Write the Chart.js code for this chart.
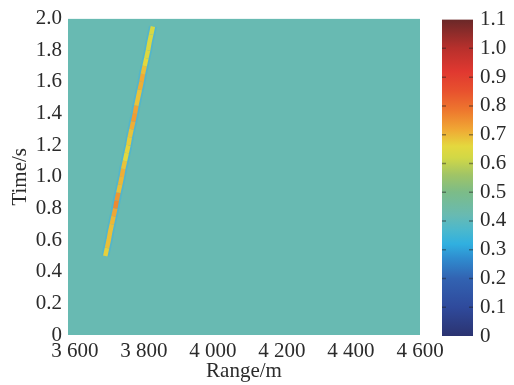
<!DOCTYPE html>
<html>
<head>
<meta charset="UTF-8">
<title>Time-Range map</title>
<script src="https://cdn.jsdelivr.net/npm/chart.js"></script>
<style>
    body { margin: 0; background: #fff; }
    #wrap { position: relative; width: 514px; height: 385px; }
    #main, #bar { position: absolute; top: 0; }
    #main { left: 0; }
    #bar { left: 430px; }
</style>
</head>
<body>
<div id="wrap">
    <canvas id="main" width="514" height="385"></canvas>
    <canvas id="bar" width="84" height="385"></canvas>
</div>
<script>
// tick labels
const xTicks = [3600, 3800, 4000, 4200, 4400, 4600];
const yTicks = [0, 0.2, 0.4, 0.6, 0.8, 1.0, 1.2, 1.4, 1.6, 1.8, 2.0];
const cbTicks = [0, 0.1, 0.2, 0.3, 0.4, 0.5, 0.6, 0.7, 0.8, 0.9, 1.0, 1.1];

// background level of the map
const backgroundLevel = 0.42;

// target track: time (s), range (m), amplitude
const trackTime = [0.50, 0.55, 0.60, 0.65, 0.70, 0.75, 0.80, 0.85, 0.90, 0.95,
                   1.00, 1.05, 1.10, 1.15, 1.20, 1.25, 1.30, 1.35, 1.40, 1.45,
                   1.50, 1.55, 1.60, 1.65, 1.70, 1.75, 1.80, 1.85, 1.90, 1.95];
const trackRange = [3688, 3693, 3698, 3702, 3707, 3712, 3717, 3721, 3726, 3731,
                    3736, 3740, 3745, 3750, 3755, 3759, 3764, 3769, 3774, 3778,
                    3783, 3788, 3793, 3797, 3802, 3807, 3812, 3816, 3821, 3826];
const trackAmp = [0.66, 0.68, 0.70, 0.68, 0.70, 0.70, 0.74, 0.78, 0.70, 0.68,
                  0.72, 0.70, 0.67, 0.65, 0.68, 0.67, 0.70, 0.72, 0.75, 0.70,
                  0.67, 0.70, 0.72, 0.71, 0.67, 0.65, 0.64, 0.63, 0.64, 0.62];

// colour map stops
const cmap = [
    [0.00, '#2b3370'], [0.10, '#2f4a9c'], [0.20, '#3263b2'], [0.27, '#2f8ccf'],
    [0.32, '#30b0e0'], [0.37, '#4cb8cc'], [0.42, '#68bab2'], [0.50, '#7cbc88'],
    [0.56, '#a0c466'], [0.62, '#d2d846'], [0.66, '#e4d83e'], [0.72, '#f0a634'],
    [0.78, '#ee7a2e'], [0.85, '#e8522e'], [0.92, '#e03830'], [1.00, '#b8302c'],
    [1.10, '#6a2828']
];

function hex(c) {
    return [1, 3, 5].map(i => parseInt(c.substr(i, 2), 16));
}
function colorAt(v) {
    if (v <= cmap[0][0]) return cmap[0][1];
    for (let i = 1; i < cmap.length; i++) {
        if (v <= cmap[i][0]) {
            const t = (v - cmap[i - 1][0]) / (cmap[i][0] - cmap[i - 1][0]);
            const a = hex(cmap[i - 1][1]), b = hex(cmap[i][1]);
            const c = a.map((x, k) => Math.round(x + (b[k] - x) * t));
            return `rgb(${c[0]},${c[1]},${c[2]})`;
        }
    }
    return cmap[cmap.length - 1][1];
}

const font = { family: '"Liberation Serif", "Times New Roman", serif', size: 21 };
const textColor = '#2b2b2b';

function fmtThousands(v) {
    const s = String(v);
    return s.length > 3 ? s.slice(0, s.length - 3) + ' ' + s.slice(-3) : s;
}

const track = trackTime.map((t, i) => ({ x: trackRange[i], y: t }));

new Chart(document.getElementById('main'), {
    type: 'line',
    data: {
        datasets: [
            {
                // uniform background level
                data: [{ x: 3580, y: 2 }, { x: 4600, y: 2 }],
                order: 3,
                fill: 'origin',
                backgroundColor: colorAt(backgroundLevel),
                borderWidth: 0,
                pointRadius: 0
            },
            {
                // faint halo round the track
                data: track,
                order: 2,
                borderColor: 'rgba(70,178,220,0.6)',
                borderWidth: 8,
                pointRadius: 0,
                fill: false
            },
            {
                data: track,
                order: 1,
                borderWidth: 4.5,
                pointRadius: 0,
                fill: false,
                segment: {
                    borderColor: ctx => colorAt((trackAmp[ctx.p0DataIndex] + trackAmp[ctx.p1DataIndex]) / 2)
                }
            }
        ]
    },
    options: {
        responsive: false,
        animation: false,
        devicePixelRatio: 1,
        layout: { padding: { top: 16, right: 94, left: 0, bottom: 0 } },
        plugins: { legend: { display: false }, tooltip: { enabled: false } },
        scales: {
            x: {
                type: 'linear',
                min: 3580,
                max: 4600,
                afterBuildTicks: s => { s.ticks = xTicks.map(v => ({ value: v })); },
                afterFit: s => { s.height = 50; },
                grid: { display: false, drawTicks: false },
                border: { display: false },
                ticks: { font: font, color: textColor, padding: 4, maxRotation: 0, autoSkip: false,
                         callback: v => fmtThousands(v) },
                title: { display: true, text: 'Range/m', font: font, color: textColor, padding: { top: 0, bottom: 1 } }
            },
            y: {
                type: 'linear',
                min: 0,
                max: 2,
                afterBuildTicks: s => { s.ticks = yTicks.map(v => ({ value: v })); },
                afterFit: s => { s.width = 68; },
                grid: { display: false, drawTicks: false },
                border: { display: false },
                ticks: { font: font, color: textColor, padding: 6, autoSkip: false,
                         callback: v => v === 0 ? '0' : v.toFixed(1) },
                title: { display: true, text: 'Time/s', font: font, color: textColor, padding: { top: 8, bottom: 0 } }
            }
        }
    }
});

// colour bar
const barTicks = {
    id: 'barTicks',
    afterDatasetsDraw(chart) {
        const { ctx, chartArea: a } = chart;
        const y = chart.scales.y;
        ctx.save();
        ctx.strokeStyle = 'rgba(30,30,30,0.45)';
        ctx.lineWidth = 1.5;
        cbTicks.slice(1, -1).forEach(v => {
            const p = y.getPixelForValue(v);
            ctx.beginPath();
            ctx.moveTo(a.left, p); ctx.lineTo(a.left + 4, p);
            ctx.moveTo(a.right - 4, p); ctx.lineTo(a.right, p);
            ctx.stroke();
        });
        ctx.restore();
    }
};

new Chart(document.getElementById('bar'), {
    type: 'bar',
    data: {
        labels: [''],
        datasets: [{
            data: [[cbTicks[0], cbTicks[cbTicks.length - 1]]],
            barPercentage: 1,
            categoryPercentage: 1,
            borderWidth: 0,
            backgroundColor: c => {
                const chart = c.chart;
                const y = chart.scales.y;
                if (!chart.chartArea || !y) return colorAt(0.5);
                const g = chart.ctx.createLinearGradient(0, y.getPixelForValue(0), 0, y.getPixelForValue(1.1));
                cmap.forEach(([v, col]) => g.addColorStop(v / 1.1, col));
                return g;
            }
        }]
    },
    options: {
        responsive: false,
        animation: false,
        devicePixelRatio: 1,
        layout: { padding: { top: 16, left: 12, right: 0, bottom: 49 } },
        plugins: { legend: { display: false }, tooltip: { enabled: false } },
        scales: {
            x: { display: false },
            y: {
                position: 'right',
                min: 0,
                max: 1.1,
                afterBuildTicks: s => { s.ticks = cbTicks.map(v => ({ value: v })); },
                afterFit: s => { s.width = 41; },
                grid: { display: false, drawTicks: false },
                border: { display: false },
                ticks: { font: font, color: textColor, padding: 7, autoSkip: false,
                         callback: v => v === 0 ? '0' : v.toFixed(1) }
            }
        }
    },
    plugins: [barTicks]
});
</script>
</body>
</html>
